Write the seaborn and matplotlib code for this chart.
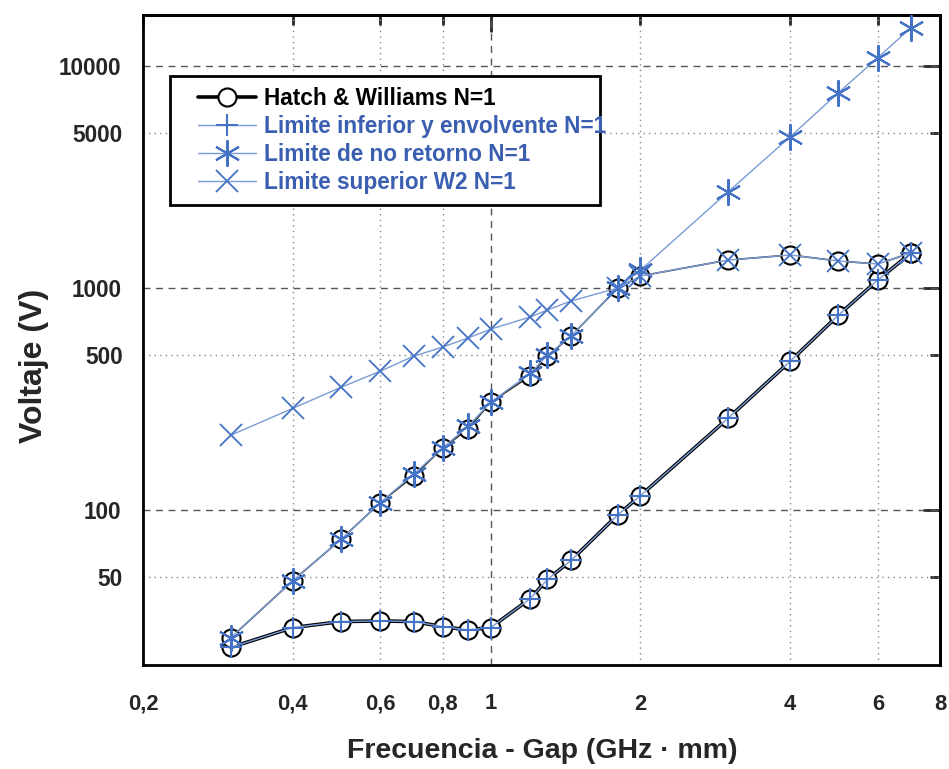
import numpy as np
import pandas as pd
import matplotlib
matplotlib.use("Agg")
import matplotlib.pyplot as plt
from matplotlib.patches import Rectangle
import seaborn as sns

# Datos (Frecuencia-Gap en GHz*mm, Voltaje en V)
gap = [0.3, 0.4, 0.5, 0.6, 0.7, 0.8, 0.9, 1.0, 1.2, 1.3, 1.45, 1.8, 2.0, 3, 4, 5, 6, 7]
hw_lower = [24, 29.5, 31.4, 31.6, 31.4, 29.8, 28.8, 29.5, 39.8, 48.6, 59.2, 95, 116, 259, 468, 755, 1087, 1440]
hw_upper = [26.5, 48, 73.6, 108, 142, 190, 231, 306, 401, 493, 607, 1000, 1133, 1337, 1409, 1324, 1283, 1440]
lim_inferior = [24, 29.5, 31.4, 31.6, 31.4, 29.8, 28.8, 29.5, 39.8, 48.6, 59.2, 95, 116, 259, 468, 755, 1087, 1440]
no_retorno = [26.5, 48, 73.6, 108, 145, 190, 238, 306, 413, 498, 607, 1000, 1205, 2712, 4806, 7587, 10920, 14930]
sup_w2 = [217, 287, 357, 422, 493, 542, 595, 653, 740, 796, 874, 1000, 1133, 1337, 1409, 1324, 1283, 1440]

x_major = [1]
x_minor = [0.2, 0.4, 0.6, 0.8, 2, 4, 6, 8]
x_minor_labels = ["0,2", "0,4", "0,6", "0,8", "2", "4", "6", "8"]
y_major = [100, 1000, 10000]
y_minor = [50, 500, 5000]

df = pd.DataFrame({"gap": gap, "hw_lower": hw_lower, "hw_upper": hw_upper,
                   "lim_inferior": lim_inferior, "no_retorno": no_retorno, "sup_w2": sup_w2})

sns.set_style("white")
plt.rcParams["font.family"] = ["Liberation Sans", "DejaVu Sans"]
plt.rcParams["font.weight"] = "bold"

blue = "#4472C4"
blue_line = "#7B9BD6"
blue_text = "#3A5FB0"

fig = plt.figure(figsize=(9.49, 7.69), dpi=100)
ax = fig.add_axes([0.1507, 0.1352, 0.8398, 0.8453])
ax.set_xscale("log")
ax.set_yscale("log")

# Hatch & Williams (curva cerrada: rama inferior y superior)
sns.lineplot(data=df, x="gap", y="hw_lower", ax=ax, errorbar=None, color="black", lw=2.6,
             marker="o", markersize=13, mfc="white", mec="black", mew=1.5,
             label="Hatch & Williams N=1", zorder=3)
sns.lineplot(data=df, x="gap", y="hw_upper", ax=ax, errorbar=None, color="#333333", lw=1.2,
             marker="o", markersize=13, mfc="white", mec="black", mew=1.5, zorder=3)

sns.lineplot(data=df, x="gap", y="lim_inferior", ax=ax, errorbar=None, color=blue_line, lw=1,
             marker="+", markersize=16, mec=blue, mew=1.5,
             label="Limite inferior y envolvente N=1", zorder=4)
sns.lineplot(data=df, x="gap", y="no_retorno", ax=ax, errorbar=None, color=blue_line, lw=1,
             marker=(6, 2, 0), markersize=19, mec=blue, mew=1.5,
             label="Limite de no retorno N=1", zorder=4)
sns.lineplot(data=df, x="gap", y="sup_w2", ax=ax, errorbar=None, color=blue_line, lw=1,
             marker="x", markersize=16, mec=blue, mew=1.3,
             label="Limite superior W2 N=1", zorder=4)

ax.set_xlim(0.2, 8)
ax.set_ylim(20, 17000)

ax.set_xticks(x_major, labels=["1"])
ax.set_xticks(x_minor, labels=x_minor_labels, minor=True)
ax.set_yticks(y_major, labels=[str(v) for v in y_major])
ax.set_yticks(y_minor, labels=[str(v) for v in y_minor], minor=True)
ax.tick_params(axis="both", which="major", direction="out", length=12, width=2)
ax.tick_params(axis="both", which="minor", direction="out", length=7, width=2)
ax.tick_params(axis="y", which="major", pad=3.5, labelsize=16.3)
ax.tick_params(axis="y", which="minor", pad=7.5, labelsize=16.3)
ax.tick_params(axis="x", which="major", pad=8, labelsize=15.8)
ax.tick_params(axis="x", which="minor", pad=13.5, labelsize=15.8)

# marcas interiores arriba y a la derecha
secx = ax.secondary_xaxis("top")
secx.set_xticks(x_major, labels=[""])
secx.set_xticks(x_minor, labels=[""] * len(x_minor), minor=True)
secx.tick_params(which="major", direction="in", length=12, width=2)
secx.tick_params(which="minor", direction="in", length=7, width=2)
secy = ax.secondary_yaxis("right")
secy.set_yticks(y_major, labels=[""] * len(y_major))
secy.set_yticks(y_minor, labels=[""] * len(y_minor), minor=True)
secy.tick_params(which="major", direction="in", length=12, width=2)
secy.tick_params(which="minor", direction="in", length=7, width=2)
for s in list(ax.spines.values()) + [secx.spines["top"], secy.spines["right"]]:
    s.set_linewidth(2)
    s.set_color("black")

ax.set_axisbelow(True)
ax.grid(which="major", linestyle=(0, (5, 4)), color="#555555", lw=1)
ax.grid(which="minor", linestyle=(0, (1, 3)), color="#888888", lw=1)

ax.set_xlabel("Frecuencia - Gap (GHz · mm)", fontsize=20.5, fontweight="bold")
ax.xaxis.set_label_coords(0.5006, -0.113)
ax.set_ylabel("Voltaje (V)", fontsize=23, fontweight="bold")
ax.yaxis.set_label_coords(-0.1175, 0.46)

# recuadro de la leyenda
ax.add_patch(Rectangle((170 / 949, 1 - 205 / 769), 430 / 949, 129 / 769, transform=fig.transFigure,
                       facecolor="white", edgecolor="black", lw=2, zorder=6, clip_on=False))
handles, labels = ax.get_legend_handles_labels()
leg = ax.legend(handles, labels, loc="upper left", bbox_to_anchor=(198 / 949, 1 - 87 / 769),
                bbox_transform=fig.transFigure, borderaxespad=0, borderpad=0, fontsize=16.3,
                frameon=False, handlelength=2.55, labelspacing=0.22, handletextpad=0.35)
leg.set_zorder(7)
for i, t in enumerate(leg.get_texts()):
    t.set_color("black" if i == 0 else blue_text)
    t.set_fontweight("bold")

fig.savefig("out.png", dpi=100)
